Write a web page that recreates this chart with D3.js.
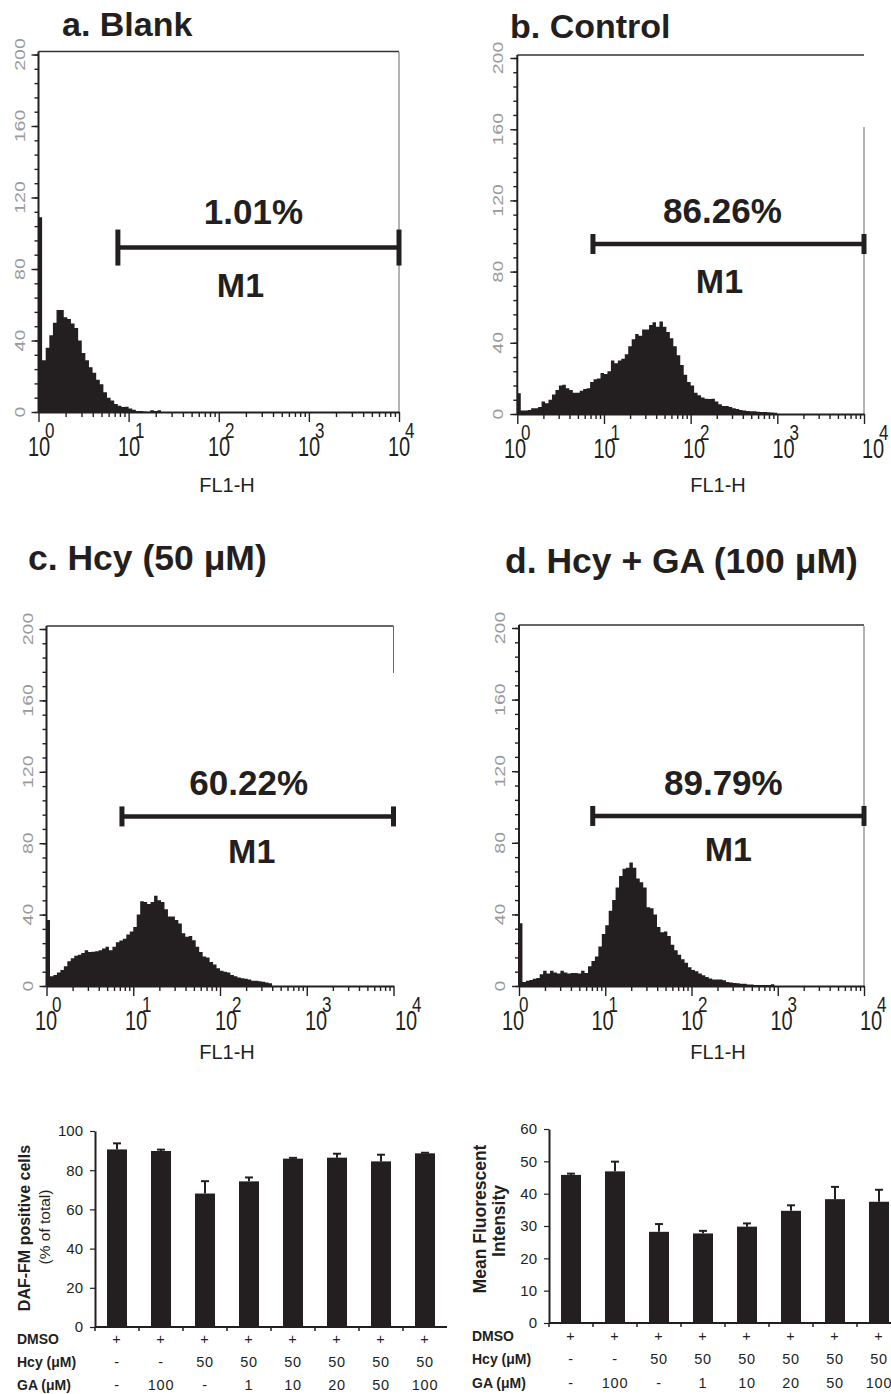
<!DOCTYPE html>
<html>
<head>
<meta charset="utf-8">
<style>
  body { margin: 0; background: #fff; }
  svg { display: block; font-family: "Liberation Sans", Arial, Helvetica, sans-serif; }
</style>
<script src="https://d3js.org/d3.v7.min.js"></script>
</head>
<body>
<svg width="891" height="1394"></svg>
<script>
// ---- flow cytometry histograms (counts per 0.04-decade bin) ----
const binStep = 0.04;
const blankCounts = [109, 29, 36, 43, 50, 57, 57, 53, 52, 49.5, 47, 40, 33, 29, 25, 22, 18, 15.5, 11, 8,
  6.5, 4.5, 3.5, 2.8, 3, 2, 1.2, 0.6, 0.5, 0.3, 0.2, 1, 0.5, 1, 0];
const controlCounts = [11.6, 1.9, 2, 2.3, 3.2, 3.2, 4, 7, 6, 8, 11, 13.5, 16, 16.5, 14.5, 13.5, 12, 12, 13, 14,
  14.5, 18, 19.5, 20, 23, 22.5, 24, 30, 28.5, 30, 31, 33.5, 38, 42, 45, 44, 47.5, 47.5, 50, 51.5,
  49, 52, 49, 46, 42.5, 38, 33, 27.5, 22, 18, 16, 12, 10.5, 9.2, 8.6, 8.4, 8.5, 7, 5.5, 4.5,
  4.5, 4, 3.2, 2.8, 2.2, 2, 1.7, 1.5, 1.5, 1.2, 1.1, 1.1, 1, 0.8, 0.7, 0];
const hcyCounts = [37, 5.5, 6.2, 7.5, 9, 11, 13.8, 15.5, 17, 17.5, 18.5, 20, 19, 19.2, 19.5, 20, 21, 22, 20, 22,
  24.5, 25.5, 26.5, 28.8, 30.5, 33, 40, 47.5, 47, 46, 47, 50.5, 48, 47, 43, 39, 39, 37, 35, 29.5,
  27.6, 28, 25.6, 22, 19, 16.5, 16, 13.5, 12, 10, 8.5, 8, 7.5, 6.2, 5.5, 4.8, 4.4, 4, 3.6, 3,
  3, 2.6, 2.4, 1.9, 1.5, 0];
const hcyGaCounts = [35, 2.2, 3, 3.3, 4, 4.5, 6.5, 8.5, 7, 8.5, 7.5, 7, 8.5, 7.5, 7, 7.3, 7.3, 7, 8.5, 7.2,
  11, 14, 16.5, 22, 29, 34, 42, 48, 55, 61.5, 65.5, 66, 69, 66, 60, 58, 55, 44, 43.5, 40,
  33, 30, 30.5, 28, 23, 20, 17.5, 15, 13, 10.5, 9, 8.2, 7, 6, 5, 4.2, 3.6, 3.6, 3.7, 3.2,
  2.3, 2, 1.7, 1.5, 1.3, 1.2, 0.9, 0.8, 0.6, 0.6, 0.6, 0.6, 0.6, 1, 0];

const panelTitles = ["a. Blank", "b. Control", "c. Hcy (50 \u03bcM)", "d. Hcy + GA (100 \u03bcM)"];
const gatePercents = ["1.01%", "86.26%", "60.22%", "89.79%"];
const gateStart = [7.6, 7.46, 7.41, 7.16];   // FL1-H where M1 begins
const gateEnd = 10000;
const gateLevel = [92, 95.5, 95, 95];       // count level of the M1 bar
const countTicks = [0, 40, 80, 120, 160, 200];
const decades = [0, 1, 2, 3, 4];

// ---- bar charts ----
const treatments = ["t1", "t2", "t3", "t4", "t5", "t6", "t7", "t8"];
const dmsoRow = ["+", "+", "+", "+", "+", "+", "+", "+"];
const hcyRow = ["-", "-", "50", "50", "50", "50", "50", "50"];
const gaRow = ["-", "100", "-", "1", "10", "20", "50", "100"];
const rowNames = ["DMSO", "Hcy (\u03bcM)", "GA (\u03bcM)"];
const dafPositive = [90.6, 89.8, 68.1, 74.3, 85.9, 86.4, 84.5, 88.6];
const dafErr = [3.1, 0.7, 6.3, 2.0, 0.4, 2.0, 3.4, 0.3];
const meanFluor = [45.8, 46.9, 28.2, 27.7, 29.8, 34.7, 38.3, 37.5];
const meanFluorErr = [0.4, 3.0, 2.4, 0.8, 1.0, 1.7, 3.8, 3.7];
const dafTicks = [0, 20, 40, 60, 80, 100];
const mfiTicks = [0, 10, 20, 30, 40, 50, 60];

const ink = "#231f20";
const svg = d3.select("svg");

// panel layout (pixels)
const panels = [
  { x0: 38.5, x1: 399, y0: 412, y1: 54.5, labX0: 39, labStep: 90, tx: 62, ty: 36, tSize: 34,
    capH: 36, pctDy: -24, pctDx: -5, m1Dx: -18, m1Dy: 49, flx: 227, fly: 492, right: [52, 412] },
  { x0: 517.3, x1: 864, y0: 414, y1: 58, labX0: 515, labStep: 89.5, tx: 510, ty: 38, tSize: 34,
    capH: 20, pctDy: -21, pctDx: -6, m1Dx: -9, m1Dy: 49, flx: 718, fly: 492, right: [127, 414] },
  { x0: 46.5, x1: 393.5, y0: 986, y1: 629, labX0: 46, labStep: 90, tx: 28, ty: 570, tSize: 35.5,
    capH: 20, pctDy: -21, pctDx: -9, m1Dx: -6, m1Dy: 47, flx: 227, fly: 1059, right: [626, 673] },
  { x0: 519, x1: 864, y0: 986, y1: 628, labX0: 513, labStep: 89.5, tx: 505, ty: 573, tSize: 35.5,
    capH: 20, pctDy: -21, pctDx: -5, m1Dx: 0, m1Dy: 45, flx: 718, fly: 1059, right: [626, 986] }
];
const histData = [blankCounts, controlCounts, hcyCounts, hcyGaCounts];

panels.forEach((p, i) => drawHistogram(p, histData[i], i));

function drawHistogram(p, counts, i) {
  const g = svg.append("g");
  const x = d3.scaleLog().domain([1, 1e4]).range([p.x0, p.x1]);
  const y = d3.scaleLinear().domain([0, 200]).range([p.y0, p.y1]);
  const top = p.y1 - 3;

  // title
  g.append("text").attr("x", p.tx).attr("y", p.ty)
    .attr("font-size", p.tSize).attr("font-weight", "bold").attr("fill", ink)
    .text(panelTitles[i]);

  // histogram
  const pts = counts.map((c, k) => [Math.pow(10, k * binStep), c]);
  pts.push([Math.pow(10, counts.length * binStep), 0]);
  const area = d3.area()
    .x(d => x(d[0])).y0(y(0)).y1(d => y(d[1]))
    .curve(d3.curveStepAfter);
  g.append("path").datum(pts).attr("d", area).attr("fill", ink);

  // frame
  g.append("line").attr("x1", p.x0).attr("x2", p.x1).attr("y1", top).attr("y2", top)
    .attr("stroke", "#333").attr("stroke-width", 1.3);
  g.append("line").attr("x1", p.x1).attr("x2", p.x1).attr("y1", p.right[0]).attr("y2", p.right[1])
    .attr("stroke", "#666").attr("stroke-width", 1);
  g.append("line").attr("x1", p.x0).attr("x2", p.x0).attr("y1", top).attr("y2", p.y0)
    .attr("stroke", ink).attr("stroke-width", 2);

  // y ticks (minor every 8, major every 40)
  const yMinor = d3.axisLeft(y).tickValues(d3.range(0, 201, 8)).tickSize(4).tickFormat("");
  const yMajor = d3.axisLeft(y).tickValues(countTicks).tickSize(7).tickFormat("");
  [yMinor, yMajor].forEach(ax => {
    const a = g.append("g").attr("transform", `translate(${p.x0},0)`).call(ax);
    a.select(".domain").remove();
    a.selectAll("line").attr("stroke", ink).attr("stroke-width", 1.4);
  });
  g.selectAll(".ylab").data(countTicks).join("text")
    .attr("transform", d => `translate(${p.x0 - 19},${y(d)}) scale(1,1.4) rotate(-90)`)
    .attr("text-anchor", "middle").attr("dy", "0.36em")
    .attr("font-size", 14).attr("fill", "#9a9a9a")
    .text(d => d);

  // x ticks (log minor + decade majors)
  const minorVals = [];
  decades.slice(0, 4).forEach(e => [2, 3, 4, 5, 6, 7, 8, 9].forEach(k => minorVals.push(k * Math.pow(10, e))));
  const xMinor = d3.axisBottom(x).tickValues(minorVals).tickSize(5).tickFormat("");
  const xMajor = d3.axisBottom(x).tickValues(decades.map(e => Math.pow(10, e))).tickSize(10).tickFormat("").tickSizeOuter(0);
  [xMinor, xMajor].forEach((ax, j) => {
    const a = g.append("g").attr("transform", `translate(0,${p.y0})`).call(ax);
    if (j === 0) a.select(".domain").remove();
    else a.select(".domain").attr("stroke", ink).attr("stroke-width", 2);
    a.selectAll("line").attr("stroke", ink).attr("stroke-width", 1.4);
  });

  // decade labels 10^n
  const labX = d3.scaleLinear().domain([0, 4]).range([p.labX0, p.labX0 + 4 * p.labStep]);
  decades.forEach(e => {
    g.append("text")
      .attr("transform", `translate(${labX(e)},${p.y0 + 44}) scale(1,1.4)`)
      .attr("text-anchor", "middle").attr("font-size", 20).attr("fill", ink)
      .text("10");
    g.append("text")
      .attr("transform", `translate(${labX(e) + 6},${p.y0 + 26}) scale(1,1.25)`)
      .attr("font-size", 17).attr("fill", ink)
      .text(e);
  });

  g.append("text").attr("x", p.flx).attr("y", p.fly)
    .attr("text-anchor", "middle").attr("font-size", 20).attr("fill", ink)
    .text("FL1-H");

  // M1 gate
  const gx0 = x(gateStart[i]), gx1 = x(gateEnd), gy = y(gateLevel[i]);
  g.append("line").attr("x1", gx0).attr("x2", gx1).attr("y1", gy).attr("y2", gy)
    .attr("stroke", ink).attr("stroke-width", 4.5);
  [gx0, gx1].forEach(cx => g.append("rect")
    .attr("x", cx - 2.5).attr("y", gy - p.capH / 2).attr("width", 5).attr("height", p.capH)
    .attr("fill", ink));
  const mid = (gx0 + gx1) / 2;
  g.append("text").attr("x", mid + p.pctDx).attr("y", gy + p.pctDy)
    .attr("text-anchor", "middle").attr("font-size", 35).attr("font-weight", "bold").attr("fill", ink)
    .text(gatePercents[i]);
  g.append("text").attr("x", mid + p.m1Dx).attr("y", gy + p.m1Dy)
    .attr("text-anchor", "middle").attr("font-size", 34).attr("font-weight", "bold").attr("fill", ink)
    .text("M1");
}

// ---- bar charts ----
const barCharts = [
  { values: dafPositive, errs: dafErr, ticks: dafTicks, max: 100, left: 95, bottom: 1327, top: 1131,
    rowX: 17, rowY: [1344, 1367, 1390] },
  { values: meanFluor, errs: meanFluorErr, ticks: mfiTicks, max: 60, left: 549, bottom: 1323, top: 1129,
    rowX: 472, rowY: [1341, 1364, 1388] }
];
barCharts.forEach(drawBars);

function drawBars(c) {
  const g = svg.append("g");
  const x = d3.scaleBand().domain(treatments).range([c.left, c.left + treatments.length * 44]);
  const y = d3.scaleLinear().domain([0, c.max]).range([c.bottom, c.top]);
  const bw = 20;

  g.selectAll(".bar").data(treatments).join("rect")
    .attr("x", d => x(d) + (x.bandwidth() - bw) / 2)
    .attr("width", bw)
    .attr("y", (d, k) => y(c.values[k]))
    .attr("height", (d, k) => y(0) - y(c.values[k]))
    .attr("fill", ink);

  // error bars (upper only)
  treatments.forEach((d, k) => {
    const cx = x(d) + x.bandwidth() / 2;
    const yt = y(c.values[k] + c.errs[k]);
    g.append("line").attr("x1", cx).attr("x2", cx).attr("y1", y(c.values[k])).attr("y2", yt)
      .attr("stroke", ink).attr("stroke-width", 2);
    g.append("line").attr("x1", cx - 4).attr("x2", cx + 4).attr("y1", yt).attr("y2", yt)
      .attr("stroke", ink).attr("stroke-width", 2);
  });

  const ya = g.append("g").attr("transform", `translate(${c.left},0)`)
    .call(d3.axisLeft(y).tickValues(c.ticks).tickSize(5).tickPadding(7).tickSizeOuter(0));
  ya.select(".domain").attr("stroke", ink).attr("stroke-width", 2);
  ya.selectAll("line").attr("stroke", ink).attr("stroke-width", 1.2);
  ya.selectAll("text").attr("font-size", 15).attr("fill", ink)
    .attr("font-family", '"Liberation Sans", Arial, sans-serif');

  // x axis line with ticks at band edges
  g.append("line").attr("x1", c.left).attr("x2", c.left + treatments.length * 44)
    .attr("y1", y(0)).attr("y2", y(0)).attr("stroke", ink).attr("stroke-width", 2);
  g.selectAll(".xt").data(treatments).join("line")
    .attr("x1", d => x(d)).attr("x2", d => x(d))
    .attr("y1", y(0)).attr("y2", y(0) + 4)
    .attr("stroke", ink).attr("stroke-width", 1.5);

  // treatment rows
  [dmsoRow, hcyRow, gaRow].forEach((row, r) => {
    g.append("text").attr("x", c.rowX).attr("y", c.rowY[r])
      .attr("font-size", 14).attr("font-weight", "bold").attr("fill", ink)
      .text(rowNames[r]);
    g.selectAll(".row" + r).data(treatments).join("text")
      .attr("x", d => x(d) + x.bandwidth() / 2).attr("y", c.rowY[r])
      .attr("text-anchor", "middle").attr("font-size", 14.5).attr("letter-spacing", 0.8)
      .attr("fill", ink)
      .text((d, k) => row[k]);
  });
}

// y-axis titles
svg.append("text").attr("transform", "translate(30,1228) rotate(-90)")
  .attr("text-anchor", "middle").attr("font-size", 16).attr("font-weight", "bold").attr("fill", ink)
  .text("DAF-FM positive cells");
svg.append("text").attr("transform", "translate(50,1227) rotate(-90)")
  .attr("text-anchor", "middle").attr("font-size", 15.5).attr("fill", ink)
  .text("(% of total)");
svg.append("text").attr("transform", "translate(486,1219) rotate(-90)")
  .attr("text-anchor", "middle").attr("font-size", 17.5).attr("font-weight", "bold").attr("fill", ink)
  .text("Mean Fluorescent");
svg.append("text").attr("transform", "translate(505,1221) rotate(-90)")
  .attr("text-anchor", "middle").attr("font-size", 17.5).attr("font-weight", "bold").attr("fill", ink)
  .text("Intensity");
</script>
</body>
</html>
